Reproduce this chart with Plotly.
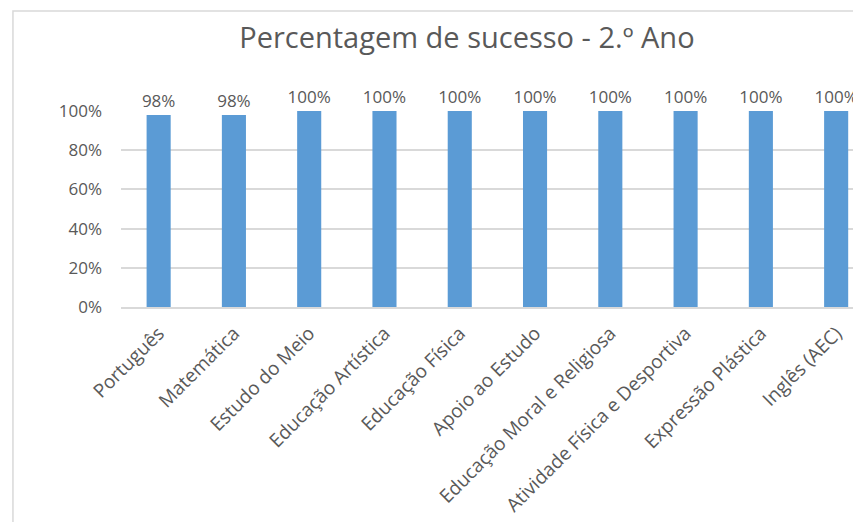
import plotly.graph_objects as go

# Dados do gráfico
disciplinas = [
    "Português", "Matemática", "Estudo do Meio", "Educação Artística",
    "Educação Física", "Apoio ao Estudo", "Educação Moral e Religiosa",
    "Atividade Física e Desportiva", "Expressão Plástica", "Inglês (AEC)",
]
sucesso = [0.98, 0.98, 1.0, 1.0, 1.0, 1.0, 1.0, 1.0, 1.0, 1.0]
etiquetas = ["98%", "98%", "100%", "100%", "100%", "100%", "100%", "100%", "100%", "100%"]

COR_BARRA = "#5B9BD5"
COR_TEXTO = "#595959"
COR_GRELHA = "#D9D9D9"
FONTE = "Open Sans"

fig = go.Figure()
fig.add_trace(go.Bar(
    x=disciplinas,
    y=sucesso,
    text=etiquetas,
    textposition="outside",
    constraintext="none",
    textfont=dict(family=FONTE, size=17, color=COR_TEXTO),
    marker=dict(color=COR_BARRA, line=dict(width=0)),
    cliponaxis=False,
    hoverinfo="skip",
))

# Moldura do gráfico (só o canto superior esquerdo fica visível)
fig.add_shape(
    type="rect", xref="paper", yref="paper",
    x0=-0.146, x1=1.1, y0=-1.2, y1=1.51,
    line=dict(color=COR_GRELHA, width=1.5),
    layer="below",
)

# a página tem 8px de margem no body, por isso tudo é deslocado
fig.update_layout(
    width=853,
    height=514,
    margin=dict(l=113, r=0, t=103, b=215),
    paper_bgcolor="white",
    plot_bgcolor="white",
    showlegend=False,
    bargap=0.68,
    title=dict(
        text="Percentagem de sucesso - 2.º Ano",
        x=0.538, xanchor="center",
        y=0.942, yanchor="middle",
        font=dict(family=FONTE, size=29, color=COR_TEXTO),
    ),
    xaxis=dict(
        range=[-0.5, 9.33],
        tickangle=-45,
        tickfont=dict(family=FONTE, size=19, color=COR_TEXTO),
        showline=True,
        linecolor=COR_GRELHA,
        linewidth=1.5,
        ticks="",
        showgrid=False,
        ticklabelstandoff=6,
    ),
    yaxis=dict(
        range=[0, 1.0],
        dtick=0.2,
        tickformat=".0%",
        tickfont=dict(family=FONTE, size=17, color=COR_TEXTO),
        showgrid=True,
        gridcolor=COR_GRELHA,
        gridwidth=1.5,
        zeroline=False,
        ticks="",
        ticklabelstandoff=18,
    ),
)

fig.write_html("out.html")
